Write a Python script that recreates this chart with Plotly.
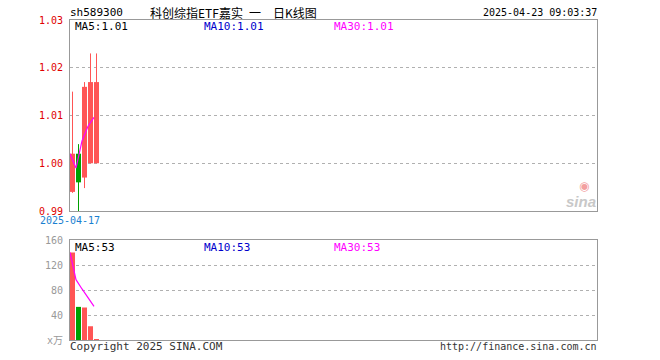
import plotly.graph_objects as go
import pandas as pd

# ---- data ----
dates = ["2025-04-17", "2025-04-18", "2025-04-21", "2025-04-22", "2025-04-23"]
opens = [0.994, 1.002, 0.997, 1.000, 1.000]
closes = [1.002, 0.996, 1.016, 1.017, 1.017]
highs = [1.015, 1.004, 1.017, 1.023, 1.023]
lows = [0.9938, 0.990, 0.9948, 1.000, 1.000]
volumes = [140, 53, 52, 22, 1.5]  # 万
price_ticks = [0.99, 1.00, 1.01, 1.02, 1.03]
vol_ticks = [0, 40, 80, 120, 160]
vol_ticktext = ["x万", "40", "80", "120", "160"]
title_code = "sh589300"
title_name = "科创综指ETF嘉实\u2002一\u2002\u2002日K线图"
timestamp = "2025-04-23 09:03:37"
ma_price_labels = ["MA5:1.01", "MA10:1.01", "MA30:1.01"]
ma_vol_labels = ["MA5:53", "MA10:53", "MA30:53"]

# ---- geometry (pixels) ----
W, H = 660, 360
L, R, T, B = 70, 597, 20, 340
SLOT = 6.0
x0 = -2.5 / SLOT
x1 = x0 + (R - L) / SLOT

def px(x):
    return (x - L) / (R - L)

def py(y):
    return (B - y) / (B - T)

RED = "#ff5555"
GREEN = "#00a000"
MAG = "#ff00ff"
BLUE = "#0000cc"
GRID = "#b0b0b0"
BORDER = "#999999"
MONO = "DejaVu Sans Mono"
CJK = "Noto Sans CJK SC"

idx = list(range(len(dates)))
up = [c >= o for o, c in zip(opens, closes)]
colors = [RED if u else GREEN for u in up]

ma5 = pd.Series(closes).rolling(5, min_periods=1).mean().tolist()
vma5 = pd.Series(volumes).rolling(5, min_periods=1).mean().tolist()
ma_x = [i + x0 for i in idx]

fig = go.Figure()

# wicks
for col in (RED, GREEN):
    xs, ys = [], []
    for i in idx:
        if colors[i] == col:
            xs += [i, i, None]
            ys += [lows[i], highs[i], None]
    fig.add_trace(go.Scatter(x=xs, y=ys, mode="lines", line=dict(color=col, width=1),
                             xaxis="x", yaxis="y", hoverinfo="skip", showlegend=False))

# bodies
fig.add_trace(go.Bar(
    x=idx,
    base=[min(o, c) for o, c in zip(opens, closes)],
    y=[max(abs(c - o), 0.0002) for o, c in zip(opens, closes)],
    width=5 / SLOT,
    marker=dict(color=colors, line=dict(width=0)),
    xaxis="x", yaxis="y", showlegend=False,
))

fig.add_trace(go.Scatter(x=ma_x, y=ma5, mode="lines", line=dict(color=MAG, width=1.2),
                         xaxis="x", yaxis="y", showlegend=False))

# volume
fig.add_trace(go.Bar(
    x=idx, y=volumes, width=5 / SLOT,
    marker=dict(color=colors, line=dict(width=0)),
    xaxis="x2", yaxis="y2", showlegend=False,
))
fig.add_trace(go.Scatter(x=ma_x, y=vma5, mode="lines", line=dict(color=MAG, width=1.2),
                         xaxis="x2", yaxis="y2", showlegend=False))

main_bottom = 211
vol_top = 240

axis_common = dict(showline=True, mirror=True, linecolor=BORDER, linewidth=1,
                   zeroline=False, ticks="", automargin=False)

fig.update_layout(
    width=W, height=H,
    margin=dict(l=L, r=W - R, t=T, b=H - B, pad=0),
    paper_bgcolor="white", plot_bgcolor="white",
    showlegend=False,
    xaxis=dict(domain=[0, 1], range=[x0, x1], anchor="y", showgrid=False,
               tickvals=[x0], ticktext=[dates[0]],
               tickfont=dict(family=MONO, size=10, color="#1a7fd0"), **axis_common),
    yaxis=dict(domain=[py(main_bottom), 1], range=[0.99, 1.03], anchor="x",
               tickvals=price_ticks, tickformat=".2f",
               tickfont=dict(family=MONO, size=10, color="#e00000"),
               showgrid=True, gridcolor=GRID, griddash="dot", gridwidth=1,
               ticklabelstandoff=4, **axis_common),
    xaxis2=dict(domain=[0, 1], range=[x0, x1], anchor="y2", showgrid=False,
                showticklabels=False, **axis_common),
    yaxis2=dict(domain=[0, py(vol_top)], range=[0, 160], anchor="x2",
                tickvals=vol_ticks, ticktext=vol_ticktext,
                tickfont=dict(family=MONO + ", " + CJK, size=10, color="#999999"),
                showgrid=True, gridcolor=GRID, griddash="dot", gridwidth=1,
                ticklabelstandoff=4, **axis_common),
)

ann = []
def text(x, y, s, color="black", xanchor="left", size=10, family=MONO):
    ann.append(dict(x=px(x), y=py(y), xref="paper", yref="paper", text=s,
                    showarrow=False, xanchor=xanchor, yanchor="middle",
                    font=dict(family=family, size=size, color=color)))

text(68, 12, title_code, xanchor="left", size=11)
text(148, 12, title_name, xanchor="left", size=12, family=CJK + ", " + MONO)
text(599, 12, timestamp, xanchor="right", size=10)
text(73, 27, ma_price_labels[0], "black", size=11)
text(202, 27, ma_price_labels[1], BLUE, size=11)
text(332, 27, ma_price_labels[2], MAG, size=11)
text(73, 247, ma_vol_labels[0], "black", size=11)
text(202, 247, ma_vol_labels[1], BLUE, size=11)
text(332, 247, ma_vol_labels[2], MAG, size=11)
text(68, 346, "Copyright 2025 SINA.COM", "#333333", size=11)
text(599, 346, "http://finance.sina.com.cn", "#333333", xanchor="right", size=10)
# watermark
text(598, 201, "<b><i>sina</i></b>", "#c8c8c8", xanchor="right", size=15, family="Liberation Sans")
text(584, 186, "◉", "#f3a0a0", xanchor="center", size=12, family="DejaVu Sans")
fig.update_layout(annotations=ann)

fig.write_html("out.html", config={"displayModeBar": False},
               post_script="document.body.style.margin='0';")
